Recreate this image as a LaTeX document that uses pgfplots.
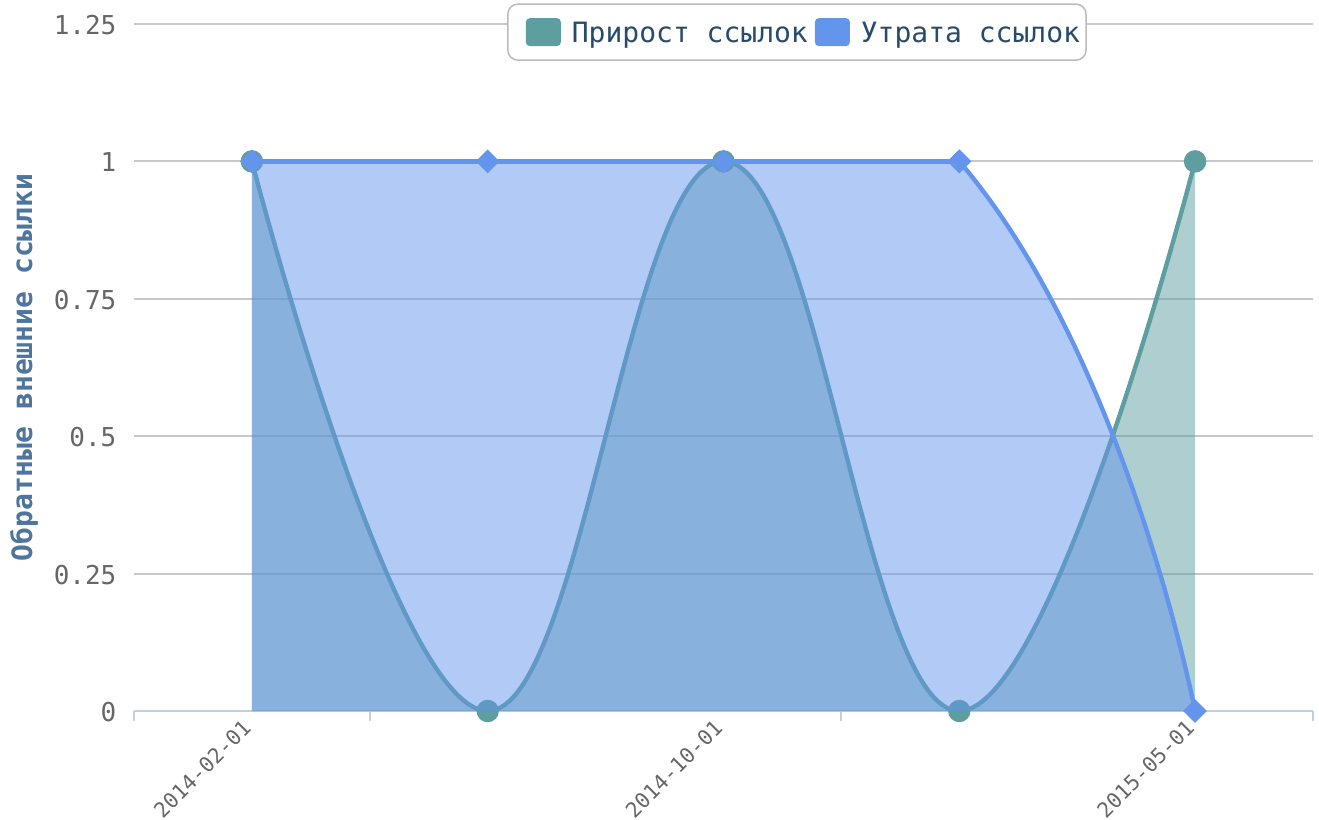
\documentclass[border=0pt]{standalone}
\usepackage{fontspec}
\setmainfont{DejaVu Sans Mono}
\usepackage{pgfplots}
\usepackage{pgfplotstable}
\pgfplotsset{compat=1.18}
\definecolor{cteal}{HTML}{5F9EA0}
\definecolor{cblue}{HTML}{6495ED}
\definecolor{cgrid}{HTML}{C8C8C8}
\definecolor{caxis}{HTML}{C0D0E0}
\definecolor{ctick}{HTML}{666666}
\definecolor{cylab}{HTML}{4D759E}
\definecolor{cleg}{HTML}{274B6D}
\definecolor{clegb}{HTML}{BBBBBB}

\pgfplotstableread{
x gain loss
0 1 1
1 0 1
2 1 1
3 0 1
4 1 0
}\links

\begin{document}
\begin{tikzpicture}
\path[use as bounding box] (-67pt,-54.5pt) rectangle (592.5pt,355.5pt);
\begin{axis}[
  at={(0,0)}, anchor=south west,
  scale only axis, width=589.5pt, height=343.5pt,
  xmin=-0.5, xmax=4.5, ymin=0, ymax=1.25,
  axis x line*=bottom, axis y line*=left,
  x axis line style={draw=caxis, line width=1pt, -},
  y axis line style={draw=none},
  xtick={-0.5,0.5,2.5,4.5}, xticklabels={,,,},
  xtick align=outside, major tick length=5pt,
  xtick style={draw=caxis, line width=1pt},
  extra x ticks={0,2,4},
  extra x tick labels={2014-02-01,2014-10-01,2015-05-01},
  extra x tick style={major tick length=0pt},
  xticklabel style={rotate=45, anchor=north east, font=\fontsize{10.5}{12}\selectfont, text=ctick, xshift=-3pt, yshift=4.5pt},
  ytick={0,0.25,0.5,0.75,1,1.25},
  yticklabels={0,0.25,0.5,0.75,1,1.25},
  ytick style={draw=none},
  yticklabel style={font=\fontsize{13}{15}\selectfont, text=ctick, inner sep=0pt, anchor=east, xshift=-8.6pt, yshift=-0.5pt},
  ymajorgrids, grid style={draw=cgrid, line width=1pt},
  ylabel={Обратные внешние ссылки},
  ylabel style={font=\bfseries\fontsize{14}{16}\selectfont, text=cylab, at={(axis description cs:-0.0933,0.5)}, anchor=center},
  legend columns=2,
  legend cell align=left,
  legend style={at={(axis description cs:0.5623,1.030)}, anchor=north, draw=clegb, line width=0.75pt, rounded corners=5pt, fill=white, inner xsep=3pt, inner ysep=7pt, font=\fontsize{14}{16}\selectfont, text=cleg, nodes={inner sep=0pt, text height=12pt, text depth=1.5pt}},
]
\addlegendimage{legend image code/.code={\path[draw=none, fill=none] (0pt,-7pt) rectangle (29pt,7pt); \fill[cteal, draw=none, rounded corners=2pt] (6pt,-7pt) rectangle (23.5pt,7pt);}}
\addlegendentry{Прирост ссылок}
\addlegendimage{legend image code/.code={\path[draw=none, fill=none] (0pt,-7pt) rectangle (26.5pt,7pt); \fill[cblue, draw=none, rounded corners=2pt] (3.5pt,-7pt) rectangle (21pt,7pt);}}
\addlegendentry{Утрата ссылок}

% teal series
\addplot[forget plot, smooth, tension=0.72, draw=none, fill=cteal, fill opacity=0.5] table[x=x, y=gain]{\links} \closedcycle;
\addplot[forget plot, smooth, tension=0.72, draw=cteal, line width=2.2pt, mark=*, mark size=4.5pt, mark options={fill=cteal, draw=none}] table[x=x, y=gain]{\links};
% blue series: flat part of the line with its markers
\addplot[forget plot, draw=cblue, line width=2.2pt, mark=square*, mark size=3.1pt, mark options={rotate=45, fill=cblue, draw=none}, restrict x to domain=0:3] table[x=x, y=loss]{\links};
\end{axis}
% blue series: area and line, clipped at y = 1
\begin{axis}[at={(0,0)}, anchor=south west, scale only axis, width=589.5pt, height=274.8pt, xmin=-0.5, xmax=4.5, ymin=0, ymax=1, hide axis]
\addplot[draw=none, fill=cblue, fill opacity=0.5, smooth, tension=1.27] table[x=x, y=loss]{\links} \closedcycle;
\addplot[draw=cblue, line width=2.2pt, smooth, tension=1.27, mark=square*, mark indices={4,5}, mark size=3.1pt, mark options={rotate=45, fill=cblue, draw=none}] table[x=x, y=loss]{\links};
\end{axis}
\end{tikzpicture}
\end{document}
